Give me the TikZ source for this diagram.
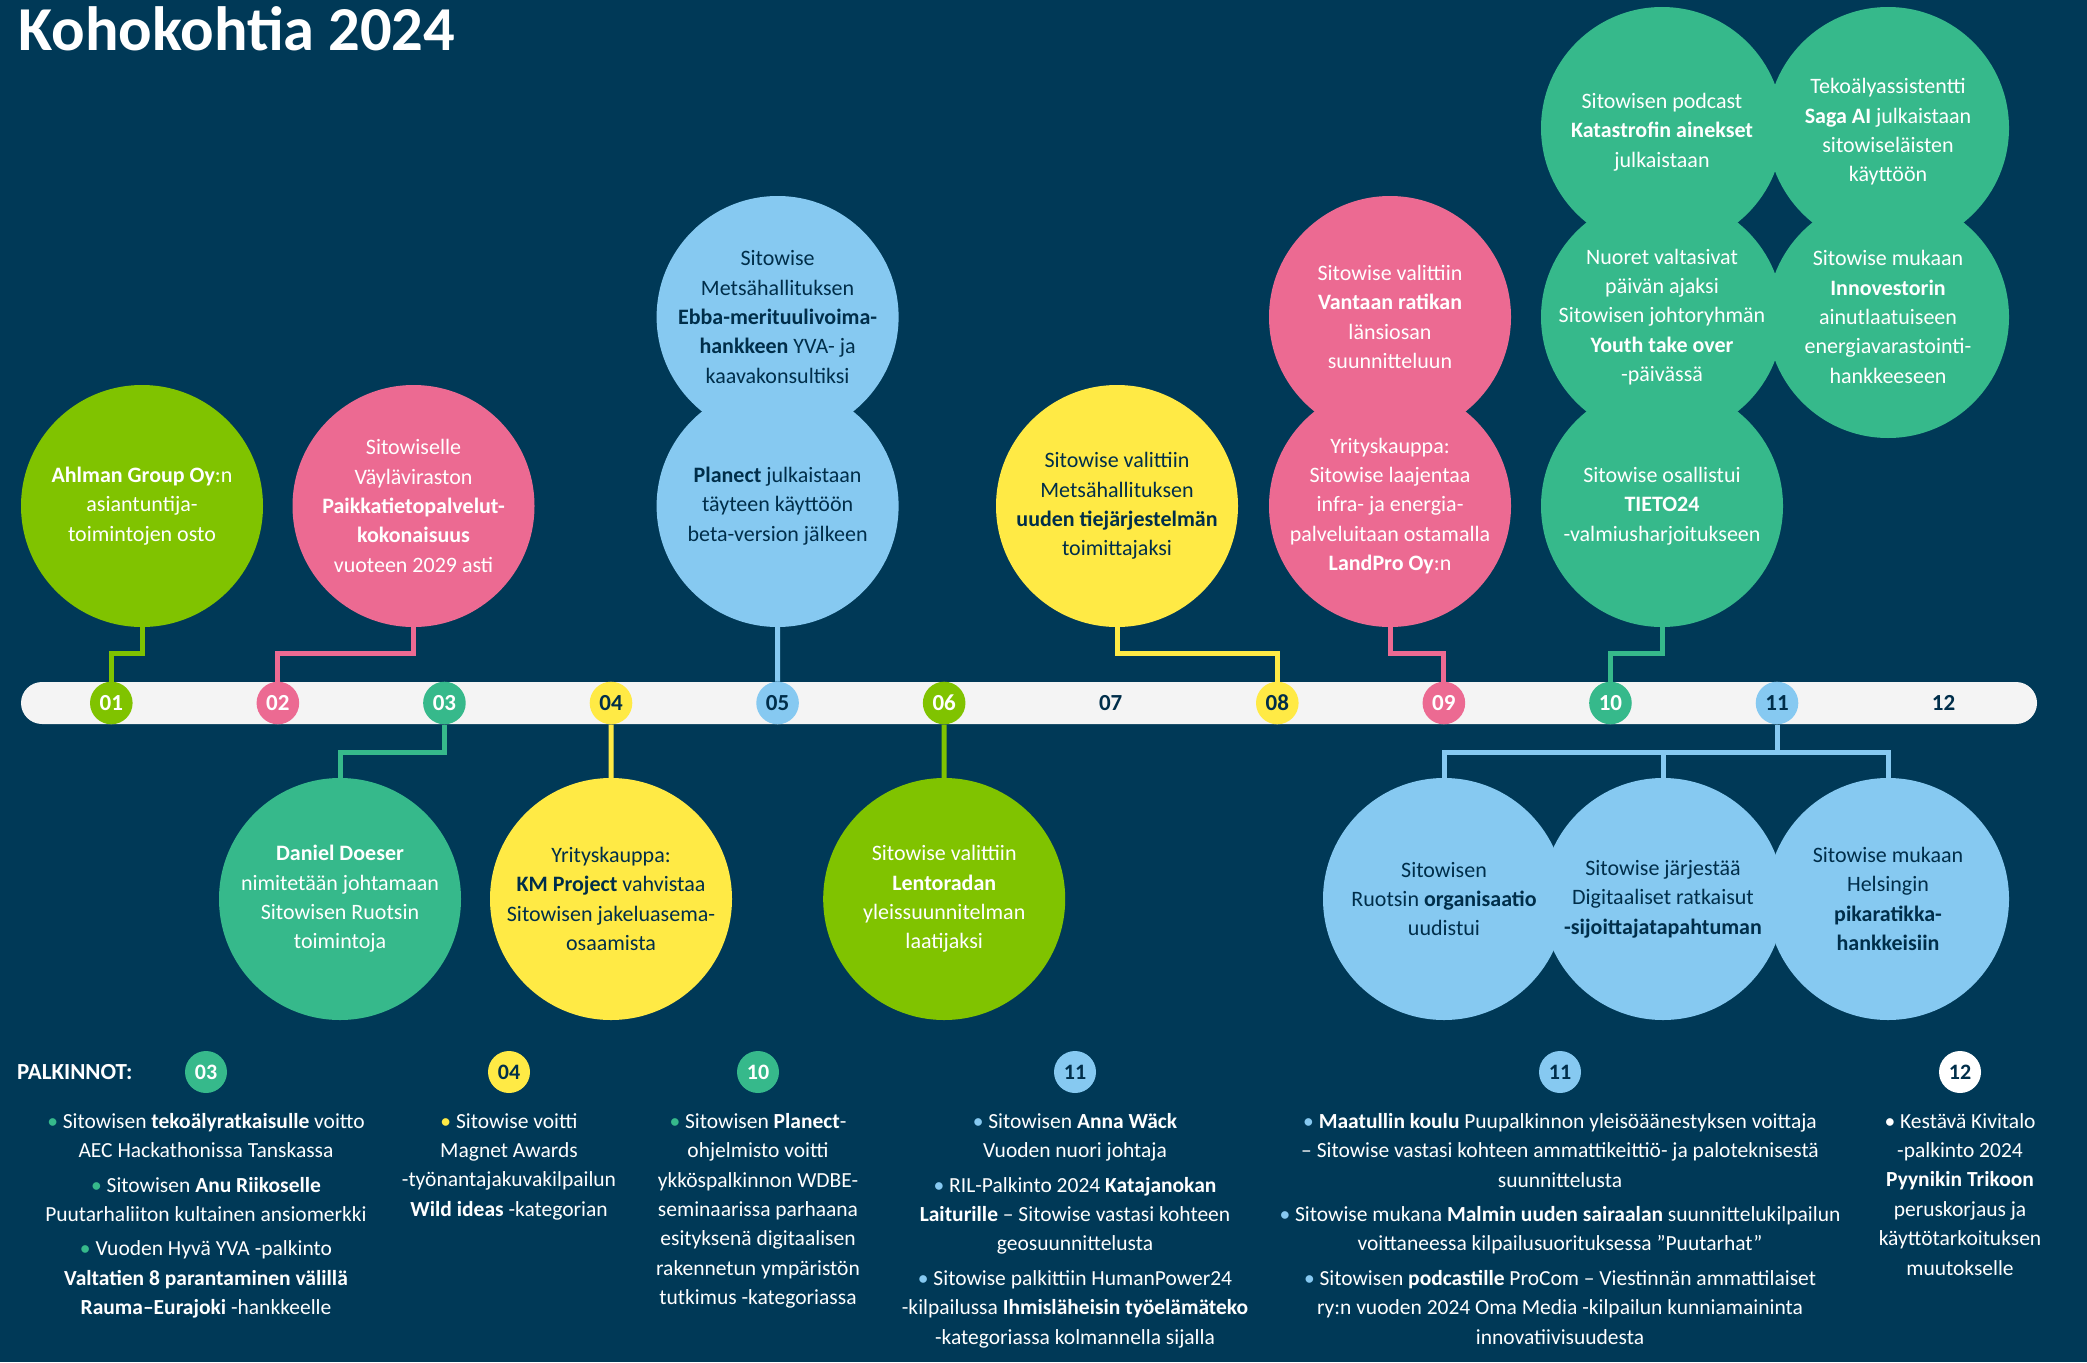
\documentclass[tikz,border=0pt]{standalone}
\usepackage{fontspec}
\setmainfont{Carlito}
\definecolor{bg}{HTML}{003957}
\definecolor{navy}{HTML}{002E4A}
\definecolor{cgreen}{HTML}{80C300}
\definecolor{cpink}{HTML}{EC6A92}
\definecolor{cteal}{HTML}{36B98B}
\definecolor{cyellow}{HTML}{FFEA45}
\definecolor{cblue}{HTML}{86C9F1}
\definecolor{barcol}{HTML}{F4F4F4}
\tikzset{
  bubble/.style={circle, minimum size=242pt, inner sep=0pt, fill=#1},
  btext/.style={align=center, inner sep=0pt, font=\fontsize{22}{29.3}\selectfont, text=#1},
  conn/.style={line width=5pt, draw=#1},
  month/.style={circle, minimum size=42.6pt, inner sep=0pt, fill=#1, font=\fontsize{23}{23}\selectfont\bfseries},
  badge/.style={circle, minimum size=42pt, inner sep=0pt, fill=#1, font=\fontsize{22}{22}\selectfont\bfseries},
  award/.style={align=center, anchor=north, inner sep=0pt, font=\fontsize{21.5}{29.4}\selectfont, text=white},
}
\begin{document}
\begin{tikzpicture}[x=1pt,y=-1pt]
\useasboundingbox (0,0) rectangle (2087,1362);
\fill[bg] (0,0) rectangle (2087,1362);

% title
\node[anchor=north west, inner sep=0pt, font=\fontsize{62.5}{62.5}\selectfont\bfseries, text=white] (title) at (18,6) {Kohokohtia 2024};

% timeline bar
\fill[barcol, rounded corners=21pt] (21,682) rectangle (2037,724);

% bubbles above
\node[bubble=cgreen]  (c1)  at (142,506) {};
\node[bubble=cpink]   (c2)  at (413.5,506) {};
\node[bubble=cblue]   (c3)  at (777.6,317) {};
\node[bubble=cblue]   (c4)  at (777.6,506) {};
\node[bubble=cyellow] (c5)  at (1117,506) {};
\node[bubble=cpink]   (c6)  at (1390,317) {};
\node[bubble=cpink]   (c7)  at (1390,506) {};
\node[bubble=cteal]   (c8)  at (1662,128) {};
\node[bubble=cteal]   (c9)  at (1662,317) {};
\node[bubble=cteal]   (c10) at (1662,506) {};
\node[bubble=cteal]   (c11) at (1888,128) {};
\node[bubble=cteal]   (c12) at (1888,317) {};
% bubbles below
\node[bubble=cteal]   (c13) at (340,899) {};
\node[bubble=cyellow] (c14) at (611,899) {};
\node[bubble=cgreen]  (c15) at (944.2,899) {};
\node[bubble=cblue]   (c16) at (1444,899) {};
\node[bubble=cblue]   (c17) at (1663,899) {};
\node[bubble=cblue]   (c18) at (1888,899) {};

% months
\foreach \i/\lab/\col/\tc in {1/01/cgreen/white, 2/02/cpink/white, 3/03/cteal/white, 4/04/cyellow/navy, 5/05/cblue/navy, 6/06/cgreen/white, 7/07/none/navy, 8/08/cyellow/navy, 9/09/cpink/white, 10/10/cteal/white, 11/11/cblue/navy, 12/12/none/navy}
  \node[month=\col, text=\tc] (m\lab) at ({111.3+166.57*(\i-1)},703) {\lab};

% connectors
\draw[conn=cgreen]  (c1.south) -- ++(0,26) -| (m01);
\draw[conn=cpink]   (c2.south) -- ++(0,26) -| (m02);
\draw[conn=cteal]   (m03) -- ++(0,49) -| (c13.north);
\draw[conn=cyellow] (m04) -- (c14.north);
\draw[conn=cblue]   (c4.south) -- (m05);
\draw[conn=cgreen]  (m06) -- (c15.north);
\draw[conn=cyellow] (c5.south) -- ++(0,26) -| (m08);
\draw[conn=cpink]   (c7.south) -- ++(0,26) -| (m09);
\draw[conn=cteal]   (c10.south) -- ++(0,26) -| (m10);
\draw[conn=cblue]   (m11) -- ++(0,49) coordinate (j11);
\draw[conn=cblue]   (c16.north) |- (j11) -| (c18.north);
\draw[conn=cblue]   (c17.north) -- (c17.north |- j11);

% bubble texts
\node[btext=white] (t1) at (c1) {\textbf{Ahlman Group Oy}:n\\asiantuntija-\\toimintojen osto};
\node[btext=white] (t2) at (c2) {Sitowiselle\\Väyläviraston\\\textbf{Paikkatietopalvelut-}\\\textbf{kokonaisuus}\\vuoteen 2029 asti};
\node[btext=navy] (t3) at (c3) {Sitowise\\Metsähallituksen\\\textbf{Ebba-merituulivoima-}\\\textbf{hankkeen} YVA- ja\\kaavakonsultiksi};
\node[btext=navy] (t4) at (c4) {\textbf{Planect} julkaistaan\\täyteen käyttöön\\beta-version jälkeen};
\node[btext=navy] (t5) at (c5) {Sitowise valittiin\\Metsähallituksen\\\textbf{uuden tiejärjestelmän}\\toimittajaksi};
\node[btext=white] (t6) at (c6) {Sitowise valittiin\\\textbf{Vantaan ratikan}\\länsiosan\\suunnitteluun};
\node[btext=white] (t7) at (c7) {Yrityskauppa:\\Sitowise laajentaa\\infra- ja energia-\\palveluitaan ostamalla\\\textbf{LandPro Oy}:n};
\node[btext=white] (t8) at ([yshift=-4pt]c8.center) {Sitowisen podcast\\\textbf{Katastrofin ainekset}\\julkaistaan};
\node[btext=white] (t9) at (c9) {Nuoret valtasivat\\päivän ajaksi\\Sitowisen johtoryhmän\\\textbf{Youth take over}\\-päivässä};
\node[btext=white] (t10) at (c10) {Sitowise osallistui\\\textbf{TIETO24}\\-valmiusharjoitukseen};
\node[btext=white] (t11) at ([yshift=-4pt]c11.center) {Tekoälyassistentti\\\textbf{Saga AI} julkaistaan\\sitowiseläisten\\käyttöön};
\node[btext=white] (t12) at (c12) {Sitowise mukaan\\\textbf{Innovestorin}\\ainutlaatuiseen\\energiavarastointi-\\hankkeeseen};
\node[btext=white] (t13) at (c13) {\textbf{Daniel Doeser}\\nimitetään johtamaan\\Sitowisen Ruotsin\\toimintoja};
\node[btext=navy] (t14) at (c14) {Yrityskauppa:\\\textbf{KM Project} vahvistaa\\Sitowisen jakeluasema-\\osaamista};
\node[btext=white] (t15) at (c15) {Sitowise valittiin\\\textbf{Lentoradan}\\yleissuunnitelman\\laatijaksi};
\node[btext=navy] (t16) at (c16) {Sitowisen\\Ruotsin \textbf{organisaatio}\\uudistui};
\node[btext=navy] (t17) at (c17) {Sitowise järjestää\\Digitaaliset ratkaisut\\\textbf{-sijoittajatapahtuman}};
\node[btext=navy] (t18) at (c18) {Sitowise mukaan\\Helsingin\\\textbf{pikaratikka-}\\\textbf{hankkeisiin}};

% awards
\node[anchor=west, inner sep=0pt, font=\fontsize{23}{23}\selectfont\bfseries, text=white] (palk) at (17,1072) {PALKINNOT:};
\node[badge=cteal, text=white]  (b03) at (206,1072) {03};
\node[badge=cyellow, text=navy] (b04) at (509,1072) {04};
\node[badge=cteal, text=white]  (b10) at (758,1072) {10};
\node[badge=cblue, text=navy]   (b11a) at (1075,1072) {11};
\node[badge=cblue, text=navy]   (b11b) at (1560,1072) {11};
\node[badge=white, text=navy]   (b12) at (1960,1072) {12};

\node[award] (a03) at (206,1113) {{\color{cteal}•} Sitowisen \textbf{tekoälyratkaisulle} voitto\\AEC Hackathonissa Tanskassa\\[5pt]{\color{cteal}•} Sitowisen \textbf{Anu Riikoselle}\\Puutarhaliiton kultainen ansiomerkki\\[5pt]{\color{cteal}•} Vuoden Hyvä YVA -palkinto\\\textbf{Valtatien 8 parantaminen välillä}\\\textbf{Rauma–Eurajoki} -hankkeelle};
\node[award] (a04) at (509,1113) {{\color{cyellow}•} Sitowise voitti\\Magnet Awards\\-työnantajakuvakilpailun\\\textbf{Wild ideas} -kategorian};
\node[award] (a10) at (758,1113) {{\color{cteal}•} Sitowisen \textbf{Planect}-\\ohjelmisto voitti\\ykköspalkinnon WDBE-\\seminaarissa parhaana\\esityksenä digitaalisen\\rakennetun ympäristön\\tutkimus -kategoriassa};
\node[award] (a11a) at (1075,1113) {{\color{cblue}•} Sitowisen \textbf{Anna Wäck}\\Vuoden nuori johtaja\\[5pt]{\color{cblue}•} RIL-Palkinto 2024 \textbf{Katajanokan}\\\textbf{Laiturille} – Sitowise vastasi kohteen\\geosuunnittelusta\\[5pt]{\color{cblue}•} Sitowise palkittiin HumanPower24\\-kilpailussa \textbf{Ihmisläheisin työelämäteko}\\-kategoriassa kolmannella sijalla};
\node[award] (a11b) at (1560,1113) {{\color{cblue}•} \textbf{Maatullin koulu} Puupalkinnon yleisöäänestyksen voittaja\\– Sitowise vastasi kohteen ammattikeittiö- ja paloteknisestä\\suunnittelusta\\[5pt]{\color{cblue}•} Sitowise mukana \textbf{Malmin uuden sairaalan} suunnittelukilpailun\\voittaneessa kilpailusuorituksessa ”Puutarhat”\\[5pt]{\color{cblue}•} Sitowisen \textbf{podcastille} ProCom – Viestinnän ammattilaiset\\ry:n vuoden 2024 Oma Media -kilpailun kunniamaininta\\innovatiivisuudesta};
\node[award] (a12) at (1960,1113) {{\color{white}•} Kestävä Kivitalo\\-palkinto 2024\\\textbf{Pyynikin Trikoon}\\peruskorjaus ja\\käyttötarkoituksen\\muutokselle};
\end{tikzpicture}
\end{document}
